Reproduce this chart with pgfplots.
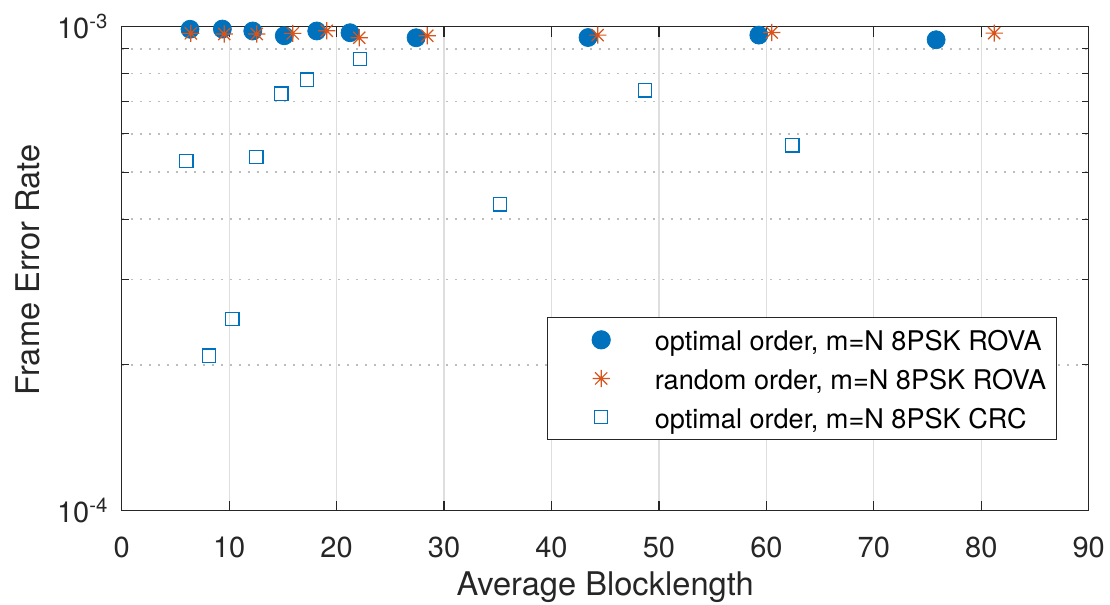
\documentclass[border=0pt]{standalone}
\usepackage{fontspec}
\setmainfont{TeX Gyre Heros}
\usepackage{pgfplots}
\pgfplotsset{compat=1.18}

\definecolor{mblue}{HTML}{0072BD}
\definecolor{morange}{HTML}{D95319}
\definecolor{axgray}{HTML}{262626}
\definecolor{gridgray}{HTML}{DEDEDE}
\definecolor{dotgray}{HTML}{BDBDBD}

% eight-armed asterisk
\pgfdeclareplotmark{ast8}{%
  \pgfpathmoveto{\pgfqpoint{0pt}{\pgfplotmarksize}}%
  \pgfpathlineto{\pgfqpoint{0pt}{-\pgfplotmarksize}}%
  \pgfpathmoveto{\pgfqpoint{\pgfplotmarksize}{0pt}}%
  \pgfpathlineto{\pgfqpoint{-\pgfplotmarksize}{0pt}}%
  \pgfpathmoveto{\pgfqpoint{0.7071\pgfplotmarksize}{0.7071\pgfplotmarksize}}%
  \pgfpathlineto{\pgfqpoint{-0.7071\pgfplotmarksize}{-0.7071\pgfplotmarksize}}%
  \pgfpathmoveto{\pgfqpoint{-0.7071\pgfplotmarksize}{0.7071\pgfplotmarksize}}%
  \pgfpathlineto{\pgfqpoint{0.7071\pgfplotmarksize}{-0.7071\pgfplotmarksize}}%
  \pgfusepathqstroke}

\begin{document}
\begin{tikzpicture}
\begin{axis}[
  scale only axis,
  width=483.5pt, height=242pt,
  xmin=0, xmax=90,
  ymode=log, ymin=1e-4, ymax=1e-3,
  xtick={0,10,...,90},
  ytick={1e-4,1e-3},
  yticklabels={10\textsuperscript{-4},10\textsuperscript{-3}},
  /pgf/number format/assume math mode=true,
  tick align=inside,
  xtick pos=both, ytick pos=both,
  major tick length=5pt, minor tick length=3.5pt,
  every tick/.style={axgray, line width=0.6pt},
  axis line style={axgray, line width=0.65pt},
  xmajorgrids, yminorgrids,
  major grid style={gridgray, line width=0.6pt},
  minor grid style={dotgray, line width=0.9pt, dash pattern=on 0.9pt off 3.6pt},
  tick label style={font=\fontsize{14.5}{16}\selectfont, text=axgray},
  xticklabel style={anchor=base, yshift=-23.6pt},
  yticklabel style={anchor=east, inner sep=0pt, xshift=-6.5pt},
  xlabel={Average Blocklength},
  ylabel={Frame Error Rate},
  label style={font=\fontsize{16.3}{18}\selectfont, text=axgray},
  xlabel style={at={(axis description cs:0.5,-0.1755)}, anchor=base},
  ylabel style={at={(axis description cs:-0.097,0.497)}, anchor=center, rotate=0},
  clip=false,
  legend cell align=left,
  legend style={
    at={(rel axis cs:0.4398,0.4)}, anchor=north west,
    draw=axgray, line width=0.6pt, fill=white,
    inner xsep=5pt, inner ysep=1.5pt,
    font=\fontsize{13.55}{15}\selectfont,
    nodes={inner xsep=0pt, inner ysep=3pt, text height=12.2pt, text depth=1.1pt},
    column sep=0pt, row sep=0pt,
  },
  legend image code/.code={%
    \path (0pt,-6pt) (48pt,6pt);
    \draw[mark repeat=2, mark phase=2, #1] plot coordinates {(0pt,0pt) (21.5pt,0pt) (43pt,0pt)};
  },
]
\coordinate (ll) at (rel axis cs:0,0);
\coordinate (ur) at (rel axis cs:1,1);

\addplot[only marks, mark=*, mark size=4.5pt, draw=mblue, fill=mblue] coordinates {
  (6.36,0.987e-3) (9.37,0.988e-3) (12.2,0.979e-3) (15.13,0.957e-3) (18.15,0.979e-3)
  (21.25,0.971e-3) (27.4,0.948e-3) (43.4,0.949e-3) (59.3,0.960e-3) (75.8,0.939e-3)
};
\addlegendentry{optimal order, m=N 8PSK ROVA}

\addplot[only marks, mark=ast8, mark size=4.3pt, draw=morange, line width=0.6pt] coordinates {
  (6.43,0.968e-3) (9.55,0.965e-3) (12.57,0.965e-3) (15.92,0.968e-3) (19.08,0.980e-3)
  (22.11,0.948e-3) (28.44,0.957e-3) (44.3,0.960e-3) (60.5,0.972e-3) (81.2,0.969e-3)
};
\addlegendentry{random order, m=N 8PSK ROVA}

\addplot[only marks, mark=square, mark size=3.3pt, draw=mblue, line width=0.6pt] coordinates {
  (6.02,0.528e-3) (8.13,0.209e-3) (10.3,0.249e-3) (12.53,0.538e-3) (14.86,0.727e-3)
  (17.27,0.777e-3) (22.18,0.856e-3) (35.2,0.429e-3) (48.72,0.738e-3) (62.43,0.568e-3)
};
\addlegendentry{optimal order, m=N 8PSK CRC}
\end{axis}
\pgfresetboundingbox
\path (ll) +(-60.85pt,-47.15pt) (ur) +(10.65pt,13.25pt);
\end{tikzpicture}
\end{document}
